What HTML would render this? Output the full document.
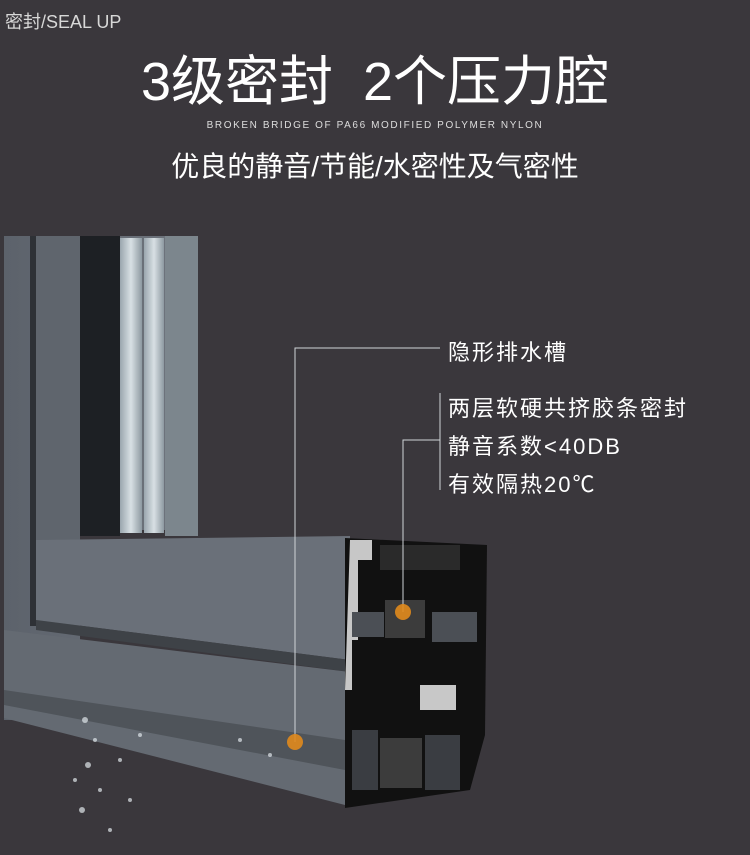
<!DOCTYPE html>
<html><head><meta charset="utf-8"><style>
body{margin:0;width:750px;height:855px;background:#3a373c;overflow:hidden;position:relative;font-family:"Liberation Sans","Noto Sans CJK SC",sans-serif;color:#fff}
.t{position:absolute;white-space:nowrap}
.l{font-size:22px;letter-spacing:2px}
</style></head><body>
<div class="t" style="left:5px;top:8px;font-size:18px;color:#d8d8d8">密封/SEAL UP</div>
<div class="t" style="left:0;width:750px;text-align:center;top:50px;font-size:54px;line-height:64px;">3级密封&nbsp;&nbsp;2个压力腔</div>
<div class="t" style="left:0;width:750px;text-align:center;top:120px;font-size:10px;letter-spacing:1.6px;color:#ddd">BROKEN BRIDGE OF PA66 MODIFIED POLYMER NYLON</div>
<div class="t" style="left:0;width:750px;text-align:center;top:150px;font-size:28px;line-height:34px">优良的静音/节能/水密性及气密性</div>
<svg width="750" height="855" style="position:absolute;left:0;top:0">
<defs>
<linearGradient id="g1" x1="0" x2="1"><stop offset="0" stop-color="#5c626b"/><stop offset="1" stop-color="#6f757e"/></linearGradient>
<linearGradient id="gl" x1="0" x2="1"><stop offset="0" stop-color="#9aa6ae"/><stop offset=".5" stop-color="#d8e0e4"/><stop offset="1" stop-color="#8d99a1"/></linearGradient>
</defs>
<polygon points="4,236 198,236 198,530 80,530 80,720 4,720" fill="url(#g1)"/>
<rect x="30" y="236" width="6" height="390" fill="#2e3136"/>
<rect x="36" y="236" width="44" height="390" fill="#5f656d"/>
<rect x="80" y="236" width="40" height="300" fill="#1d2024"/>
<rect x="120" y="238" width="22" height="295" fill="url(#gl)"/>
<rect x="144" y="238" width="20" height="295" fill="url(#gl)"/>
<rect x="165" y="236" width="33" height="300" fill="#7c868d"/>
<polygon points="36,540 350,536 350,660 36,620" fill="#6a7079"/>
<polygon points="36,620 350,660 350,672 36,630" fill="#3e4247"/>
<polygon points="4,630 350,672 345,805 4,718" fill="#646a72"/>
<polygon points="4,690 345,740 345,770 4,705" fill="#4f545a"/>
<polygon points="345,538 487,545 485,735 470,790 345,808" fill="#111"/>
<polygon points="350,540 372,540 372,560 358,560 358,640 352,640 352,690 345,690" fill="#e8e8e8" opacity=".85"/>
<rect x="352" y="612" width="32" height="25" fill="#4b4f55"/>
<rect x="432" y="612" width="45" height="30" fill="#4b4f55"/>
<rect x="352" y="730" width="26" height="60" fill="#3a3d42"/>
<rect x="425" y="735" width="35" height="55" fill="#3a3d42"/>
<rect x="385" y="600" width="40" height="38" fill="#3c3c3c"/>
<rect x="380" y="738" width="42" height="50" fill="#3c3c3c"/>
<rect x="420" y="685" width="36" height="25" fill="#c8c8c8"/>
<rect x="380" y="545" width="80" height="25" fill="#2a2a2a"/>
<g fill="#dfe6ea" opacity=".7">
<circle cx="85" cy="720" r="3"/><circle cx="95" cy="740" r="2"/><circle cx="88" cy="765" r="3"/><circle cx="100" cy="790" r="2"/><circle cx="82" cy="810" r="3"/><circle cx="110" cy="830" r="2"/><circle cx="120" cy="760" r="2"/><circle cx="130" cy="800" r="2"/><circle cx="140" cy="735" r="2"/><circle cx="75" cy="780" r="2"/><circle cx="240" cy="740" r="2"/><circle cx="270" cy="755" r="2"/>
</g>
<g stroke="#d0d4d8" stroke-width="1" fill="none">
<polyline points="295,742 295,348 440,348"/>
<polyline points="403,612 403,440 440,440"/>
<line x1="440" y1="393" x2="440" y2="490"/>
</g>
<circle cx="295" cy="742" r="8" fill="#e08a1c" opacity=".9"/>
<circle cx="403" cy="612" r="8" fill="#e08a1c" opacity=".9"/>
</svg>
<div class="t l" style="left:448px;top:335px">隐形排水槽</div>
<div class="t l" style="left:448px;top:391px">两层软硬共挤胶条密封</div>
<div class="t l" style="left:448px;top:429px">静音系数&lt;40DB</div>
<div class="t l" style="left:448px;top:467px">有效隔热20℃</div>
</body></html>
